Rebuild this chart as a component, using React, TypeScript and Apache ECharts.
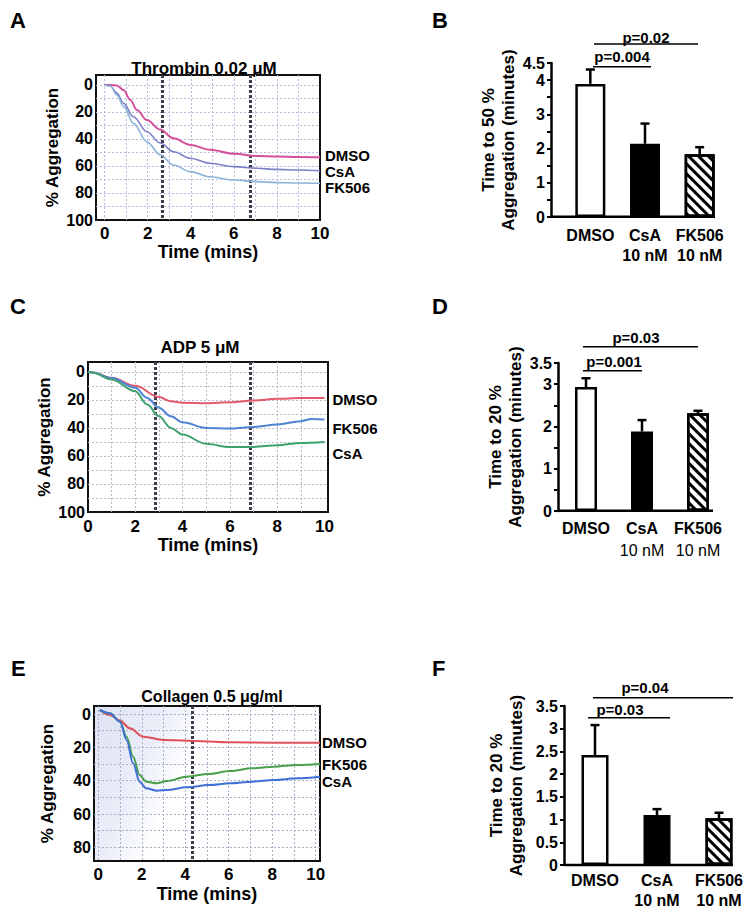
import React, { useEffect, useRef } from 'react';
import * as echarts from 'echarts';

const FONT = '"Liberation Sans", Arial, Helvetica, sans-serif';

// ---------- Panel A: Thrombin 0.02 µM aggregation traces [time (min), % aggregation]
const thrombinDMSO = [[0, 0], [0.3, 0], [0.57, 0.3], [0.88, 3.7], [1.19, 11], [1.5, 18.5], [1.96, 26], [2.58, 33], [3.2, 39.5], [3.98, 44.4], [4.9, 48], [6, 51], [7.08, 52.6], [8, 53], [9, 53.4], [10, 53.6]];
const thrombinCsA = [[0, 0], [0.26, 0.7], [0.57, 6], [0.88, 13.6], [1.34, 23.5], [1.96, 34.6], [2.58, 43], [3.2, 49.4], [3.98, 54.3], [4.9, 58], [6, 60.5], [7.08, 61.7], [8, 62.5], [9, 63], [10, 63.5]];
const thrombinFK506 = [[0, 0], [0.26, 0.7], [0.57, 7.4], [0.88, 16], [1.34, 28.4], [1.96, 42], [2.58, 51.8], [3.2, 59.3], [3.98, 64.2], [4.9, 68], [6, 70.4], [7.08, 71.6], [8, 72.3], [9, 72.6], [10, 72.8]];

// ---------- Panel C: ADP 5 µM
const adpDMSO = [[0, 0], [0.2, 0.5], [1, 4.3], [2, 10], [3, 18], [3.5, 21], [4, 22], [5, 22.4], [6, 21.7], [7, 20.5], [8, 19.3], [9, 18.6], [10, 18.6]];
const adpFK506 = [[0, 0], [0.2, 0.5], [1, 4.5], [2, 11.4], [2.5, 18.6], [3, 25.7], [3.5, 31.7], [4, 36], [5, 40], [6, 40.5], [7, 39.3], [8, 37.6], [9, 35.2], [9.45, 33.6], [10, 34]];
const adpCsA = [[0, 0], [0.2, 0.6], [1, 5.5], [2, 13.8], [2.5, 23.3], [3, 31.7], [3.5, 40], [4, 44.8], [5, 51.4], [6, 53.6], [7, 53.6], [8, 52.4], [9, 50.7], [10, 50]];

// ---------- Panel E: Collagen 0.5 µg/ml
const collagenDMSO = [[0.07, -2.4], [0.53, 0.6], [1, 4], [1.45, 8.6], [2.07, 13.6], [3, 15.6], [4.07, 16], [6.07, 17], [8.07, 17.2], [10.2, 17.2]];
const collagenFK506 = [[0.07, -2.4], [0.53, -0.4], [1, 4.6], [1.3, 13.6], [1.6, 25.6], [1.9, 36.6], [2.2, 40.6], [2.7, 41.6], [3.15, 40.2], [4.07, 37.6], [5.07, 36], [6.07, 34.2], [7.07, 32.6], [8.07, 31.6], [9.15, 30.6], [10.2, 30]];
const collagenCsA = [[0.07, -2.4], [0.53, -0.4], [1, 4.6], [1.3, 15.6], [1.6, 29.6], [1.9, 40.6], [2.2, 44.6], [2.7, 46], [3.15, 45.6], [4.07, 44], [5.07, 42.6], [6.07, 41.6], [7.07, 40.6], [8.07, 39.6], [9.15, 38.6], [10.2, 37.6]];

// ---------- Axis ticks
const timeTicks = [0, 2, 4, 6, 8, 10];
const aggTicks100 = [0, 20, 40, 60, 80, 100];
const aggTicks80 = [0, 20, 40, 60, 80];

// ---------- Bar panels (mean, upper error)
const barCategories = ['DMSO', 'CsA\n10 nM', 'FK506\n10 nM'];
const thrombinT50Mean = [3.89, 2.14, 1.83];
const thrombinT50Err = [0.42, 0.59, 0.21];
const adpT20Mean = [2.93, 1.88, 2.31];
const adpT20Err = [0.21, 0.27, 0.06];
const collagenT20Mean = [2.42, 1.1, 1.03];
const collagenT20Err = [0.66, 0.13, 0.12];
const barTicksB = [0, 1, 2, 3, 4, 4.5];
const barTicksD = [0, 1, 2, 3, 3.5];
const barTicksF = [0, 0.5, 1, 1.5, 2, 2.5, 3, 3.5];

function steps(a: number, b: number, s: number) {
  const r: number[] = [];
  for (let v = a; v <= b + 1e-9; v += s) r.push(Math.round(v * 100) / 100);
  return r;
}

const bold = (size: number) => ({ color: '#000', fontFamily: FONT, fontWeight: 'bold' as const, fontSize: size });

function linePanel(i: number, cfg: any) {
  const grid = { left: cfg.box[0], top: cfg.box[1], width: cfg.box[2], height: cfg.box[3], show: true, borderColor: '#111', borderWidth: 2, backgroundColor: cfg.bg || '#fff' };
  const xAxis = {
    type: 'value', gridIndex: i, min: cfg.xMin, max: cfg.xMax,
    axisLine: { show: false }, axisTick: { show: false }, splitLine: { show: false },
    axisLabel: { ...bold(17), margin: cfg.xLabelMargin, customValues: timeTicks },
    name: 'Time (mins)', nameLocation: 'middle', nameGap: cfg.xNameGap, nameTextStyle: bold(18),
  };
  const yAxis = {
    type: 'value', gridIndex: i, inverse: true, min: cfg.yMin, max: cfg.yMax,
    axisLine: { show: false }, axisTick: { show: false }, splitLine: { show: false },
    axisLabel: { ...bold(16), margin: 3, customValues: cfg.yTicks },
    name: '% Aggregation', nameLocation: 'middle', nameGap: cfg.yNameGap, nameRotate: 90, nameTextStyle: bold(17),
  };
  const guide = [
    ...cfg.vLines.map((v: number) => ({ xAxis: v, lineStyle: { color: cfg.gridColor, width: 1, type: [2, 2] } })),
    ...cfg.hLines.map((v: number) => ({ yAxis: v, lineStyle: { color: cfg.gridColor, width: 1, type: [2, 2] } })),
    ...cfg.markers.map((v: number) => ({ xAxis: v, lineStyle: { color: '#3c3c4a', width: 3, type: [3, 2] } })),
  ];
  const series: any[] = [
    {
      type: 'line', data: [], xAxisIndex: i, yAxisIndex: i, silent: true, z: 1,
      markLine: { silent: true, z: 1, symbol: ['none', 'none'], label: { show: false }, animation: false, data: guide },
    },
    ...cfg.traces.map((t: any) => ({
      type: 'line', name: t.name, data: t.data, xAxisIndex: i, yAxisIndex: i,
      smooth: 0.35, smoothMonotone: 'x', showSymbol: false, symbol: 'none', z: 3,
      lineStyle: { color: t.color, width: t.width }, itemStyle: { color: t.color },
      endLabel: { show: true, formatter: () => t.name, ...bold(15), lineHeight: 14, distance: cfg.labelDistance, offset: [0, t.dy] },
    })),
  ];
  return { grid, xAxis, yAxis, series };
}

const hatchDecal = { symbol: 'rect', symbolSize: 1, color: '#000', backgroundColor: '#fff', dashArrayX: [1, 0], dashArrayY: [3, 4], rotation: Math.PI / 4 };
const barLooks = [
  { color: '#fff', borderColor: '#000', borderWidth: 2.5 },
  { color: '#000', borderColor: '#000', borderWidth: 2.5 },
  { color: '#fff', borderColor: '#000', borderWidth: 2.5, decal: hatchDecal },
];

function barPanel(i: number, cfg: any) {
  const grid = { left: cfg.box[0], top: cfg.box[1], width: cfg.box[2], height: cfg.box[3] };
  const xAxis = {
    type: 'category', gridIndex: i, data: barCategories,
    axisLine: { show: false }, axisTick: { show: false },
    axisLabel: {
      ...bold(16), interval: 0, hideOverlap: false, margin: cfg.catMargin, lineHeight: cfg.catLineHeight,
      formatter: (v: string) => v.split('\n').map((s, k) => (k === 0 ? `{a|${s}}` : `{b|${s}}`)).join('\n'),
      rich: { a: { ...bold(16), lineHeight: cfg.catLineHeight }, b: { ...bold(16), fontWeight: cfg.subWeight, lineHeight: cfg.catLineHeight } },
    },
  };
  const yAxis = {
    type: 'value', gridIndex: i, min: 0, max: cfg.max, offset: cfg.offset,
    axisLine: { show: true, lineStyle: { color: '#000', width: 2.5 } },
    axisTick: { show: true, length: 4, lineStyle: { color: '#000', width: 2 }, customValues: steps(0, cfg.max, 0.5) },
    axisLabel: { ...bold(16), margin: 6, customValues: cfg.ticks },
    splitLine: { show: false },
    name: cfg.name, nameLocation: 'middle', nameGap: cfg.nameGap, nameRotate: 90,
    nameTextStyle: { ...bold(17), lineHeight: 20 },
  };
  const series: any[] = barCategories.map((c, k) => ({
    type: 'bar', name: c, stack: 'b' + i, xAxisIndex: i, yAxisIndex: i, barWidth: cfg.barWidth, z: 2,
    data: cfg.mean.map((v: number, j: number) => (j === k ? v : '-')),
    itemStyle: barLooks[k],
  }));
  series.push({
    type: 'custom', xAxisIndex: i, yAxisIndex: i, z: 4,
    data: cfg.mean.map((m: number, j: number) => [j, m, cfg.err[j]]),
    encode: { x: 0, y: 1 },
    renderItem: (_p: any, api: any) => {
      const j = api.value(0), m = api.value(1), e = api.value(2);
      const p0 = api.coord([j, m]);
      const p1 = api.coord([j, m + e]);
      return {
        type: 'group', children: [
          { type: 'line', shape: { x1: p0[0], y1: p0[1], x2: p1[0], y2: p1[1] }, style: { stroke: '#000', lineWidth: 2.5 } },
          { type: 'line', shape: { x1: p1[0] - 4.5, y1: p1[1], x2: p1[0] + 4.5, y2: p1[1] }, style: { stroke: '#000', lineWidth: 2.5 } },
        ],
      };
    },
  });
  return { grid, xAxis, yAxis, series };
}

const txt = (x: number, y: number, text: string, size: number, align = 'center') => ({
  type: 'text', x, y, silent: true,
  style: { text, fill: '#000', font: `bold ${size}px ${FONT}`, align, verticalAlign: 'middle', textAlign: align, textVerticalAlign: 'middle' },
});
const hline = (x1: number, x2: number, y: number, w: number) => ({
  type: 'line', silent: true, shape: { x1, y1: y, x2, y2: y }, style: { stroke: '#000', lineWidth: w },
});

export default function App() {
  const ref = useRef<HTMLDivElement>(null);
  useEffect(() => {
    if (!ref.current) return;
    const chart = echarts.init(ref.current, undefined, { renderer: 'svg' });

    const pA = linePanel(0, {
      box: [96, 75, 224, 145], xMin: -0.4, xMax: 10, yMin: -7.4, yMax: 100, yTicks: aggTicks100,
      vLines: steps(0, 9, 1), hLines: steps(0, 90, 10), markers: [2.69, 6.74], gridColor: '#b6bbdd',
      xLabelMargin: 5, xNameGap: 22, yNameGap: 35, labelDistance: 5,
      traces: [
        { name: 'DMSO', data: thrombinDMSO, color: '#d4509a', width: 2, dy: -1.5 },
        { name: 'CsA', data: thrombinCsA, color: '#7c80c6', width: 1.6, dy: 1 },
        { name: 'FK506', data: thrombinFK506, color: '#8db4d8', width: 1.6, dy: 4 },
      ],
    });
    const pC = linePanel(1, {
      box: [88, 362, 240, 150], xMin: 0, xMax: 10.15, yMin: -7, yMax: 100, yTicks: aggTicks100,
      vLines: steps(1, 9, 1), hLines: steps(0, 90, 10), markers: [2.86, 6.88], gridColor: '#b7bacb',
      xLabelMargin: 6, xNameGap: 24, yNameGap: 35, labelDistance: 8,
      traces: [
        { name: 'DMSO', data: adpDMSO, color: '#e05a6c', width: 2, dy: 1.5 },
        { name: 'FK506', data: adpFK506, color: '#4f84d4', width: 2, dy: 9 },
        { name: 'CsA', data: adpCsA, color: '#3fa26e', width: 2, dy: 12 },
      ],
    });
    const pE = linePanel(2, {
      box: [94, 706, 226, 155], xMin: -0.2, xMax: 10.2, yMin: -4.8, yMax: 88.2, yTicks: aggTicks80,
      vLines: steps(0, 10, 1), hLines: steps(0, 80, 10), markers: [4.3], gridColor: '#a9aec8',
      xLabelMargin: 5, xNameGap: 24, yNameGap: 38, labelDistance: 2,
      bg: new echarts.graphic.LinearGradient(0, 0, 1, 0.3, [
        { offset: 0, color: '#dde2f3' }, { offset: 0.3, color: '#ebeef8' }, { offset: 0.48, color: '#ffffff' }, { offset: 1, color: '#ffffff' },
      ]),
      traces: [
        { name: 'DMSO', data: collagenDMSO, color: '#e0505a', width: 2, dy: 0 },
        { name: 'FK506', data: collagenFK506, color: '#4aa04a', width: 2, dy: 0.5 },
        { name: 'CsA', data: collagenCsA, color: '#3d6fd6', width: 2, dy: 5 },
      ],
    });
    const pB = barPanel(3, {
      box: [563, 63, 164, 154], max: 4.5, ticks: barTicksB, offset: 12, barWidth: 30,
      mean: thrombinT50Mean, err: thrombinT50Err, name: 'Time to 50 %\nAggregation (minutes)', nameGap: 30,
      catMargin: 8, catLineHeight: 20, subWeight: 'bold',
    });
    const pD = barPanel(4, {
      box: [558, 363, 168, 148], max: 3.5, ticks: barTicksD, offset: 0, barWidth: 22,
      mean: adpT20Mean, err: adpT20Err, name: 'Time to 20 %\nAggregation (minutes)', nameGap: 33,
      catMargin: 6, catLineHeight: 22, subWeight: 'normal',
    });
    const pF = barPanel(5, {
      box: [564, 706, 186, 159], max: 3.5, ticks: barTicksF, offset: 0, barWidth: 27,
      mean: collagenT20Mean, err: collagenT20Err, name: 'Time to 20 %\nAggregation (minutes)', nameGap: 38,
      catMargin: 5, catLineHeight: 20, subWeight: 'bold',
    });
    const panels = [pA, pC, pE, pB, pD, pF];

    const graphic = [
      txt(10, 20, 'A', 22, 'left'), txt(432, 20, 'B', 22, 'left'),
      txt(10, 306, 'C', 22, 'left'), txt(432, 306, 'D', 22, 'left'),
      txt(11, 668, 'E', 22, 'left'), txt(432, 668, 'F', 22, 'left'),
      txt(204, 68, 'Thrombin 0.02 μM', 17), txt(200, 347, 'ADP 5 μM', 17), txt(212, 696, 'Collagen 0.5 μg/ml', 16),
      // bar panel baselines
      hline(551, 715, 216.7, 2.5), hline(558, 713, 510.7, 2.5), hline(565, 733, 865, 2.5),
      // significance brackets
      hline(593, 651, 66.7, 1.5), txt(622, 56.5, 'p=0.004', 15),
      hline(594, 698, 44, 1.5), txt(646, 37, 'p=0.02', 15),
      hline(583, 642, 370.7, 1.5), txt(614, 361.5, 'p=0.001', 15),
      hline(583, 698, 346.7, 1.5), txt(636, 337, 'p=0.03', 15),
      hline(588, 670, 717.7, 1.5), txt(620, 709, 'p=0.03', 15),
      hline(593, 733, 697.7, 1.5), txt(645, 687.5, 'p=0.04', 15),
    ];

    chart.setOption({
      animation: false,
      backgroundColor: '#fff',
      grid: panels.map((p) => p.grid),
      xAxis: panels.map((p) => p.xAxis),
      yAxis: panels.map((p) => p.yAxis),
      series: panels.flatMap((p) => p.series),
      graphic,
    });
    return () => chart.dispose();
  }, []);
  return <div ref={ref} style={{ position: 'absolute', left: 0, top: 0, width: 751, height: 913 }} />;
}
